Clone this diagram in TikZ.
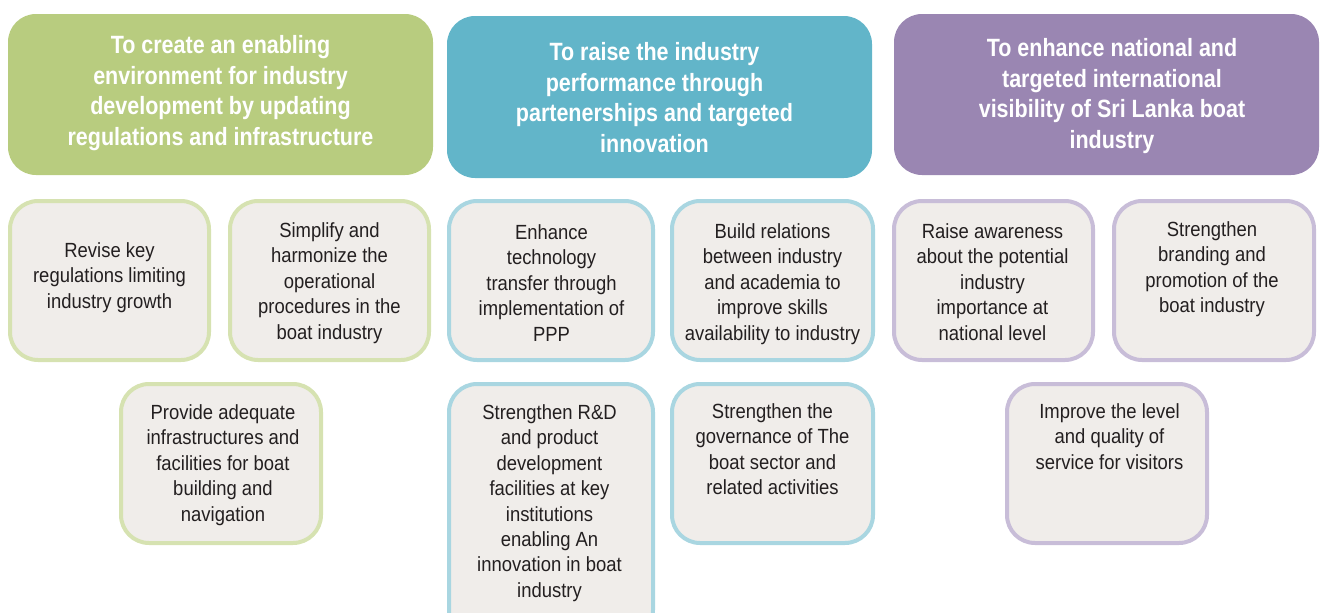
\documentclass[tikz,border=0pt]{standalone}
\usepackage{fontspec}
\setmainfont{Liberation Sans}[FakeStretch=0.9,BoldFeatures={FakeStretch=0.86}]
\definecolor{hgreen}{HTML}{B8CC7F}
\definecolor{hblue}{HTML}{62B5C9}
\definecolor{hpurple}{HTML}{9A86B2}
\definecolor{bgreen}{HTML}{D6E2B1}
\definecolor{bblue}{HTML}{A9D6E1}
\definecolor{bpurple}{HTML}{C8BDD8}
\definecolor{subfill}{HTML}{F0EDEA}
\definecolor{txt}{HTML}{231F20}
\tikzset{
  head/.style={rectangle, rounded corners=28pt, inner sep=0pt, minimum width=425pt, minimum height=161pt},
  sub/.style={rectangle, rounded corners=28pt, inner sep=0pt, line width=4pt, fill=subfill, minimum height=159pt},
  headtxt/.style={anchor=north, align=center, inner sep=0pt, text=white, font={\fontsize{25}{30.7}\selectfont\bfseries}},
  subtxt/.style={anchor=north, align=center, inner sep=0pt, text=txt, font={\fontsize{20.5}{25.4}\selectfont}}
}
\begin{document}
\begin{tikzpicture}[x=1pt,y=-1pt]
\useasboundingbox (0,0) rectangle (1320,613);
\clip (0,0) rectangle (1320,613);
% headers
\node[head, fill=hgreen] (h1) at (220.5,94.5) {};
\node[head, fill=hblue, minimum height=162pt] (h2) at (659.5,97) {};
\node[head, fill=hpurple] (h3) at (1106.5,94.5) {};
\node[headtxt] (h1t) at (220.5,35) {To create an enabling\\environment for industry\\development by updating\\regulations and infrastructure};
\node[headtxt] (h2t) at (654.5,42) {To raise the industry\\performance through\\partenerships and targeted\\innovation};
\node[headtxt] (h3t) at (1112,38) {To enhance national and\\targeted international\\visibility of Sri Lanka boat\\industry};
% green column
\node[sub, draw=bgreen, minimum width=199pt] (g1) at (109.5,280.5) {};
\node[sub, draw=bgreen, minimum width=199pt] (g2) at (329.5,280.5) {};
\node[sub, draw=bgreen, minimum width=200pt] (g3) at (221,463.5) {};
\node[subtxt] (g1t) at (109.5,242.5) {Revise key\\regulations limiting\\industry growth};
\node[subtxt] (g2t) at (329.5,222.5) {Simplify and\\harmonize the\\operational\\procedures in the\\boat industry};
\node[subtxt] (g3t) at (223,404.5) {Provide adequate\\infrastructures and\\facilities for boat\\building and\\navigation};
% blue column
\node[sub, draw=bblue, minimum width=204pt] (b1) at (551,280.5) {};
\node[sub, draw=bblue, minimum width=201pt] (b2) at (772.5,280.5) {};
\node[sub, draw=bblue, minimum width=204pt, minimum height=254pt] (b3) at (551,511) {};
\node[sub, draw=bblue, minimum width=201pt] (b4) at (772.5,463.5) {};
\node[subtxt] (b1t) at (551.5,224.5) {Enhance\\technology\\transfer through\\implementation of\\PPP};
\node[subtxt] (b2t) at (772.5,223.5) {Build relations\\between industry\\and academia to\\improve skills\\availability to industry};
\node[subtxt] (b3t) at (549.5,404.5) {Strengthen R\&D\\and product\\development\\facilities at key\\institutions\\enabling An\\innovation in boat\\industry};
\node[subtxt] (b4t) at (772.5,403.5) {Strengthen the\\governance of The\\boat sector and\\related activities};
% purple column
\node[sub, draw=bpurple, minimum width=199pt] (p1) at (993.5,280.5) {};
\node[sub, draw=bpurple, minimum width=200pt] (p2) at (1214,280.5) {};
\node[sub, draw=bpurple, minimum width=200pt] (p3) at (1107,463.5) {};
\node[subtxt] (p1t) at (992.5,223.5) {Raise awareness\\about the potential\\industry\\importance at\\national level};
\node[subtxt] (p2t) at (1212,221.5) {Strengthen\\branding and\\promotion of the\\boat industry};
\node[subtxt] (p3t) at (1109.5,403.5) {Improve the level\\and quality of\\service for visitors};
\end{tikzpicture}
\end{document}
